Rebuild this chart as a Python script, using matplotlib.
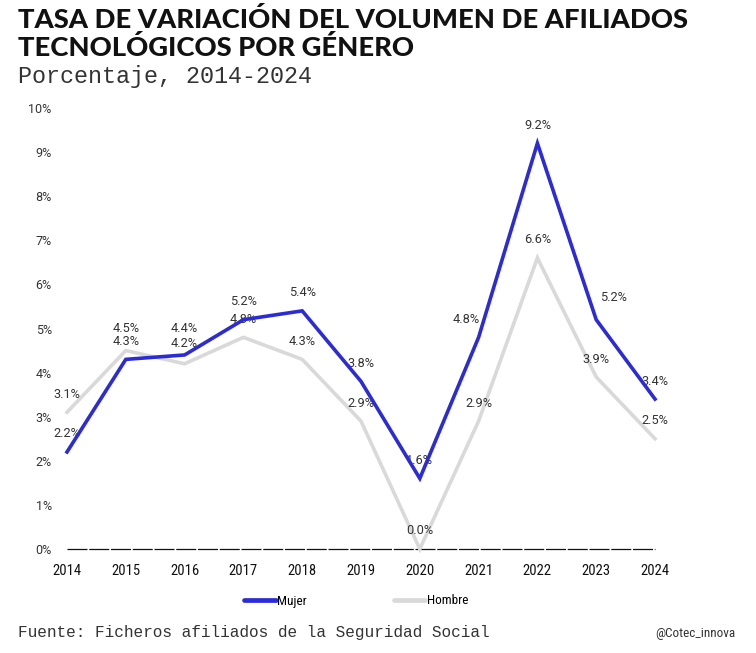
import matplotlib

matplotlib.use("Agg")
import matplotlib.pyplot as plt
from matplotlib import font_manager
from matplotlib.lines import Line2D
from matplotlib.transforms import offset_copy

years = [2014, 2015, 2016, 2017, 2018, 2019, 2020, 2021, 2022, 2023, 2024]
mujer = [2.2, 4.3, 4.4, 5.2, 5.4, 3.8, 1.6, 4.8, 9.2, 5.2, 3.4]
hombre = [3.1, 4.5, 4.2, 4.8, 4.3, 2.9, 0.0, 2.9, 6.6, 3.9, 2.5]
yticks = [0, 1, 2, 3, 4, 5, 6, 7, 8, 9, 10]

title_lines = ["TASA DE VARIACIÓN DEL VOLUMEN DE AFILIADOS", "TECNOLÓGICOS POR GÉNERO"]
subtitle = "Porcentaje, 2014-2024"
source = "Fuente: Ficheros afiliados de la Seguridad Social"
credit = "@Cotec_innova"

BLUE = "#2b2bd9"
GREY = "#d9d9d9"
TXT = "#333333"


def _pick(names, fallback="DejaVu Sans"):
    avail = {f.name for f in font_manager.fontManager.ttflist}
    for n in names:
        if n in avail:
            return n
    return fallback


NARROW = _pick(["Liberation Sans Narrow", "Roboto Condensed", "DejaVu Sans"])
SANS = _pick(["Roboto", "Liberation Sans"])
MONO = _pick(["Liberation Mono", "DejaVu Sans Mono"])
HEAVY = _pick(["Lato", "Inter", "Roboto", "DejaVu Sans"])

fig = plt.figure(figsize=(7.56, 6.53), dpi=100)
ax = fig.add_axes([67 / 756, 1 - 549 / 653, 588 / 756, 441 / 653])

ax.plot(years, hombre, color=GREY, linewidth=2.6, clip_on=False, zorder=2,
        solid_joinstyle="miter")
ax.plot(years, mujer, color=BLUE, linewidth=2.6, clip_on=False, zorder=3,
        solid_joinstyle="miter")
ax.axhline(0, color="#111111", linewidth=0.9, linestyle=(0, (16, 1.4)), zorder=1,
           clip_on=False)

ax.set_xlim(years[0], years[-1])
ax.set_ylim(0, 10)
ax.set_yticks(yticks)
ax.set_yticklabels([f"{v}%" for v in yticks], fontfamily=SANS, fontsize=9, color=TXT)
ax.set_xticks(years)
ax.set_xticklabels([str(y) for y in years], fontfamily=NARROW, fontsize=10.5,
                   color="#111111", fontstretch="condensed")
ax.tick_params(axis="y", length=0, pad=11)
ax.tick_params(axis="x", length=0, pad=11)
for s in ax.spines.values():
    s.set_visible(False)

# small label nudges (px) where the original shifts a label off its usual spot
nudge_m = {2021: (-12, 0), 2023: (17, 4), 2016: (0, 8)}
nudge_h = {2015: (0, 4), 2016: (0, 2)}
for x, m, h in zip(years, mujer, hombre):
    dx, dy = nudge_m.get(x, (0, 0))
    tr = offset_copy(ax.transData, fig=fig, x=dx * 0.72, y=(18 + dy) * 0.72, units="points")
    ax.text(x, m, f"{m:.1f}%", transform=tr, ha="center", va="center",
            fontfamily=SANS, fontsize=9.2, color=TXT, zorder=2.5)
    dx, dy = nudge_h.get(x, (0, 0))
    tr = offset_copy(ax.transData, fig=fig, x=dx * 0.72, y=(18 + dy) * 0.72, units="points")
    ax.text(x, h, f"{h:.1f}%", transform=tr, ha="center", va="center",
            fontfamily=SANS, fontsize=9.2, color=TXT, zorder=2.5)

handles = [Line2D([], [], color=BLUE, linewidth=3.4, solid_capstyle="round"),
           Line2D([], [], color=GREY, linewidth=3.4, solid_capstyle="round")]
fig.legend(handles, ["Mujer", "Hombre"], loc="center", bbox_to_anchor=(356 / 756, 1 - 601 / 653),
           ncol=2, frameon=False, handlelength=2.4, handletextpad=0.1, columnspacing=6.6,
           prop={"family": NARROW, "size": 9.5, "stretch": "condensed"})

# title, fitted to the original width
renderer = fig.canvas.get_renderer()
t1 = fig.text(18 / 756, 1 - 20 / 653, title_lines[0], fontfamily=HEAVY, fontweight="black",
              fontsize=18, va="center", ha="left", color="#111111")
w = t1.get_window_extent(renderer).width
size = min(18 * 667 / w, 22)
t1.set_fontsize(size)
fig.text(18 / 756, 1 - 47 / 653, title_lines[1], fontfamily=HEAVY, fontweight="black",
         fontsize=size, va="center", ha="left", color="#111111")

fig.text(18 / 756, 1 - 77 / 653, subtitle, fontfamily=MONO, fontsize=16.8, va="center",
         ha="left", color="#333333")
fig.text(18 / 756, 1 - 632 / 653, source, fontfamily=MONO, fontsize=11.6, va="center",
         ha="left", color="#333333")
fig.text(735 / 756, 1 - 633 / 653, credit, fontfamily=NARROW, fontsize=9.5, va="center",
         ha="right", color="#333333", fontstretch="condensed")

fig.savefig("out.png", dpi=100, facecolor="white")
